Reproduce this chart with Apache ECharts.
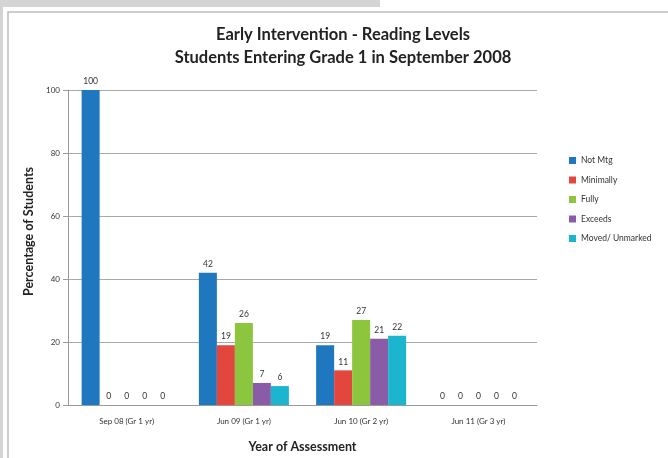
<!DOCTYPE html>
<html>
<head>
<meta charset="utf-8">
<script src="https://cdn.jsdelivr.net/npm/echarts@6/dist/echarts.min.js"></script>
<style>
  html, body { margin: 0; padding: 0; background: #fff; }
  #chart { width: 668px; height: 458px; }
</style>
</head>
<body>
<div id="chart"></div>
<script>
// Assessment periods and reading-level percentages per group
const categories = ['Sep 08 (Gr 1 yr)', 'Jun 09 (Gr 1 yr)', 'Jun 10 (Gr 2 yr)', 'Jun 11 (Gr 3 yr)'];
const seriesNames = ['Not Mtg', 'Minimally', 'Fully', 'Exceeds', 'Moved/ Unmarked'];
const notMtg = [100, 42, 19, 0];
const minimally = [0, 19, 11, 0];
const fully = [0, 26, 27, 0];
const exceeds = [0, 7, 21, 0];
const movedUnmarked = [0, 6, 22, 0];
const yTicks = [0, 20, 40, 60, 80, 100];

const colors = ['#1f77c0', '#e2463d', '#8cc63e', '#8a5ca8', '#1bb5d0'];
const values = [notMtg, minimally, fully, exceeds, movedUnmarked];
const FONT = 'Lato, "Open Sans", sans-serif';

const chart = echarts.init(document.getElementById('chart'), null, { renderer: 'canvas' });

chart.setOption({
  backgroundColor: '#ffffff',
  animation: false,
  graphic: [
    { type: 'rect', shape: { x: 0, y: 0, width: 380, height: 7 }, style: { fill: '#d4d4d4' }, z: -10 },
    { type: 'rect', shape: { x: 0, y: 0, width: 3, height: 458 }, style: { fill: '#d4d4d4' }, z: -10 },
    { type: 'rect', shape: { x: 8, y: 12, width: 680, height: 470 }, style: { fill: 'none', stroke: '#bdbdbd', lineWidth: 1.5 }, z: -9 }
  ],
  title: {
    text: 'Early Intervention - Reading Levels\nStudents Entering Grade 1 in September 2008',
    left: 338,
    textAlign: 'center',
    top: 18,
    textStyle: { fontFamily: FONT, fontSize: 16.5, fontWeight: 'bold', color: '#222', lineHeight: 23 }
  },
  legend: {
    orient: 'vertical',
    left: 564,
    top: 151,
    itemWidth: 7,
    itemHeight: 7,
    itemGap: 10.5,
    icon: 'rect',
    data: seriesNames,
    textStyle: { fontFamily: FONT, fontSize: 8.5, color: '#333' }
  },
  grid: { left: 68, right: 131, top: 90, bottom: 48, containLabel: false },
  xAxis: {
    type: 'category',
    data: categories,
    name: 'Year of Assessment',
    nameLocation: 'middle',
    nameGap: 35,
    nameTextStyle: { fontFamily: FONT, fontSize: 12.5, fontWeight: 'bold', color: '#222' },
    axisLine: { lineStyle: { color: '#999' } },
    axisTick: { show: false },
    axisLabel: { fontFamily: FONT, fontSize: 8, color: '#333', margin: 12 }
  },
  yAxis: {
    type: 'value',
    min: yTicks[0],
    max: yTicks[yTicks.length - 1],
    interval: yTicks[1] - yTicks[0],
    name: 'Percentage of Students',
    nameLocation: 'middle',
    nameGap: 24,
    nameTextStyle: { fontFamily: FONT, fontSize: 12.5, fontWeight: 'bold', color: '#222', padding: [0, 0, 0, 32] },
    axisLine: { show: true, lineStyle: { color: '#999' } },
    axisTick: { show: true, length: 5, lineStyle: { color: '#999' } },
    axisLabel: { fontFamily: FONT, fontSize: 8, color: '#333', margin: 8 },
    splitLine: { lineStyle: { color: '#a8a8a8' } }
  },
  series: seriesNames.map((name, i) => ({
    name,
    type: 'bar',
    data: values[i],
    barWidth: 18,
    barGap: '0%',
    itemStyle: { color: colors[i] },
    label: {
      show: true,
      position: 'top',
      distance: 4,
      fontFamily: FONT,
      fontSize: 8.5,
      color: '#333'
    }
  }))
});
</script>
</body>
</html>
